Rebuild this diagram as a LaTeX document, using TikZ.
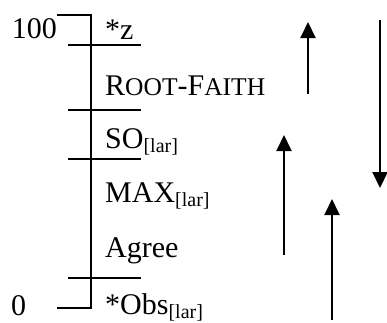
\documentclass[tikz,border=0pt]{standalone}
\usepackage{fontspec}
\setmainfont{Liberation Serif}
\usetikzlibrary{arrows.meta}

\newcommand{\larsub}{\raisebox{-4pt}{\fontsize{20}{20}\selectfont[lar]}}
\newcommand{\smcap}[1]{{\fontsize{25.5}{26}\selectfont #1}}

\tikzset{
  rank/.style={anchor=base west, inner sep=0pt, font=\fontsize{30}{36}\selectfont},
  axislbl/.style={inner sep=0pt, font=\fontsize{30}{36}\selectfont},
  scale line/.style={line width=2pt},
  shift arrow/.style={line width=2pt, -{Triangle[width=15pt,length=16pt]}}
}

\begin{document}
\begin{tikzpicture}[x=1pt,y=-1pt]
  \useasboundingbox (0,0) rectangle (387,322);

  % scale
  \draw[scale line] (57,15) -| (91,308) -- (57,308);
  \foreach \ty in {45,110,159,278}
    \draw[scale line] (68,\ty) -- (141,\ty);

  \node[axislbl, anchor=base east] (top) at (57,38) {100};
  \node[axislbl, anchor=base west] (bottom) at (11,315) {0};

  % constraints
  \node[rank] (starz) at (105,39) {*z};
  \node[rank] (rootfaith) at (105,95) {R\smcap{OOT}-F\smcap{AITH}};
  \node[rank] (so) at (105,148) {SO\larsub};
  \node[rank] (max) at (105,202) {MAX\larsub};
  \node[rank] (agree) at (105,257) {Agree};
  \node[rank] (obs) at (105,314) {*Obs\larsub};

  % movement
  \coordinate (a1s) at (308,94);  \coordinate (a1e) at (308,22);
  \coordinate (a2s) at (380,20);  \coordinate (a2e) at (380,188);
  \coordinate (a3s) at (284,255); \coordinate (a3e) at (284,135);
  \coordinate (a4s) at (332,320); \coordinate (a4e) at (332,199);
  \draw[shift arrow] (a1s) -- (a1e);
  \draw[shift arrow] (a2s) -- (a2e);
  \draw[shift arrow] (a3s) -- (a3e);
  \draw[shift arrow] (a4s) -- (a4e);
\end{tikzpicture}
\end{document}
